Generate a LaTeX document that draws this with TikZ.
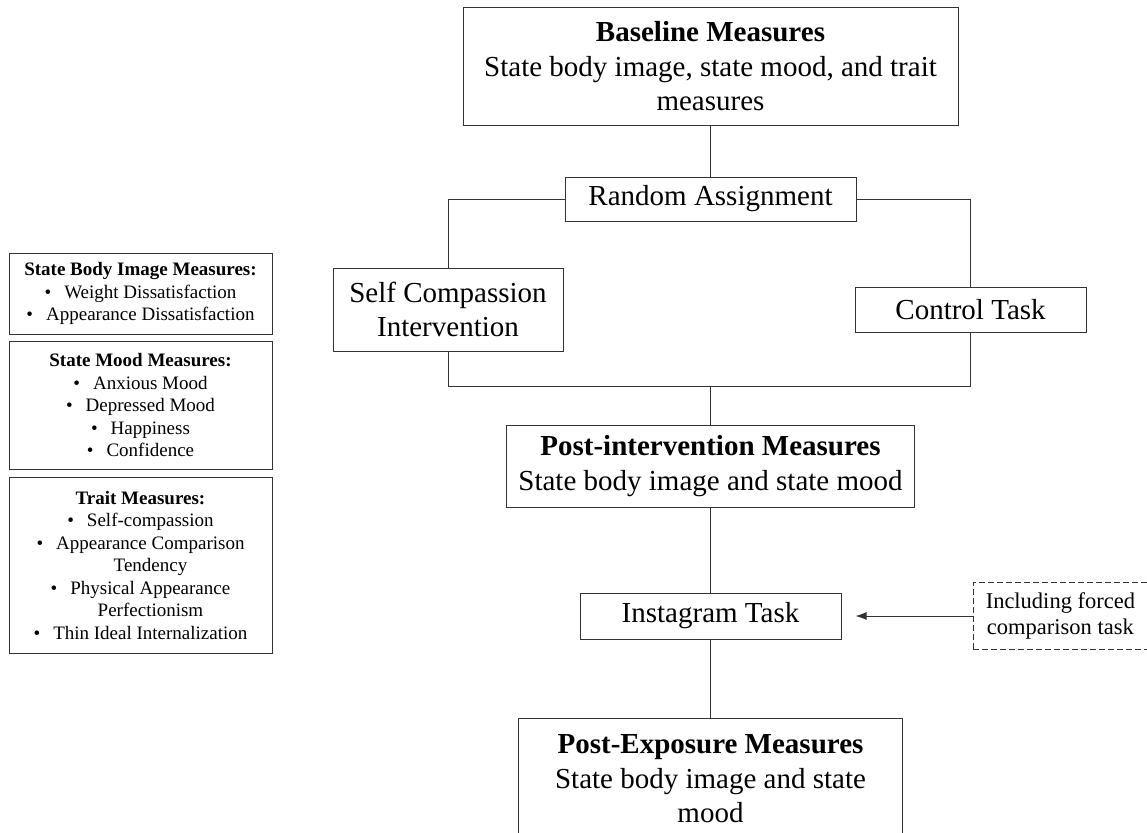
\documentclass[tikz,border=0pt]{standalone}
\usepackage{fontspec}
\setmainfont{Liberation Serif}
\usetikzlibrary{positioning,arrows.meta}

\begin{document}
\begin{tikzpicture}[x=1pt, y=-1pt,
  box/.style = {draw=black!80, line width=1pt, align=center, inner sep=2pt, font=\fontsize{29}{34.5}\selectfont},
  side/.style = {draw=black!80, line width=1pt, align=center, minimum width=263pt, inner sep=2pt, font=\fontsize{19}{22.5}\selectfont},
  note/.style = {draw=black!80, dash pattern=on 6pt off 3pt, line width=0.8pt, align=center, font=\fontsize{22.5}{26}\selectfont},
  link/.style = {draw=black!80, line width=1pt}]
        \useasboundingbox (0,0) rectangle (1147,832);
        % main column
        \node[box, minimum width=495pt, minimum height=117pt] (base) at (710.5,66.5) {\textbf{Baseline Measures}\\State body image, state mood, and trait\\measures};
        \node[box, minimum width=291pt, minimum height=44pt] (rand) [below=51pt of base] {Random Assignment};
        \node[box, minimum width=230pt, minimum height=83pt] (self) at (448,309.5) {Self Compassion\\Intervention};
        \node[box, minimum width=231pt, minimum height=45pt] (ctrl) at (970.5,309.5) {Control Task};
        \node[box, minimum width=408pt, minimum height=82pt] (post) [below=203pt of rand] {\textbf{Post-intervention Measures}\\State body image and state mood};
        \node[box, minimum width=261pt, minimum height=46pt] (insta) [below=85pt of post] {Instagram Task};
        \node[note, minimum width=175pt, minimum height=67pt] (incl) [right=131pt of insta] {Including forced\\comparison task};
        \node[box, minimum width=384pt, minimum height=122pt] (expo) [below=78pt of insta] {\textbf{Post-Exposure Measures}\\State body image and state\\mood};
        % side boxes
        \node[side, minimum height=81pt] (bim) at (140.5,293.5) {\textbf{State Body Image Measures:}\\\textbullet\hspace{13pt}Weight Dissatisfaction\\\textbullet\hspace{13pt}Appearance Dissatisfaction};
        \node[side, minimum height=128pt] (mood) at (140.5,405) {\textbf{State Mood Measures:}\\\textbullet\hspace{13pt}Anxious Mood\\\textbullet\hspace{13pt}Depressed Mood\\\textbullet\hspace{13pt}Happiness\\\textbullet\hspace{13pt}Confidence};
        \node[side, minimum height=176pt] (trait) at (140.5,565) {\textbf{Trait Measures:}\\\textbullet\hspace{13pt}Self-compassion\\\textbullet\hspace{13pt}Appearance Comparison\\\hspace{20pt}Tendency\\\textbullet\hspace{13pt}Physical Appearance\\\hspace{20pt}Perfectionism\\\textbullet\hspace{13pt}Thin Ideal Internalization};
        % connectors
        \coordinate[above=38pt of post] (join);
        \draw[link] (base) -- (rand);
        \draw[link] (rand.west) -| (self.north);
        \draw[link] (rand.east) -| (ctrl.north);
        \draw[link] (self.south) |- (join);
        \draw[link] (ctrl.south) |- (join);
        \draw[link] (join) -- (post.north);
        \draw[link] (post) -- (insta);
        \draw[link, -{Latex[length=11pt,width=8pt]}, shorten >=14pt] (incl.west) -- (insta.east);
        \draw[link] (insta) -- (expo);
    \end{tikzpicture}
\end{document}
